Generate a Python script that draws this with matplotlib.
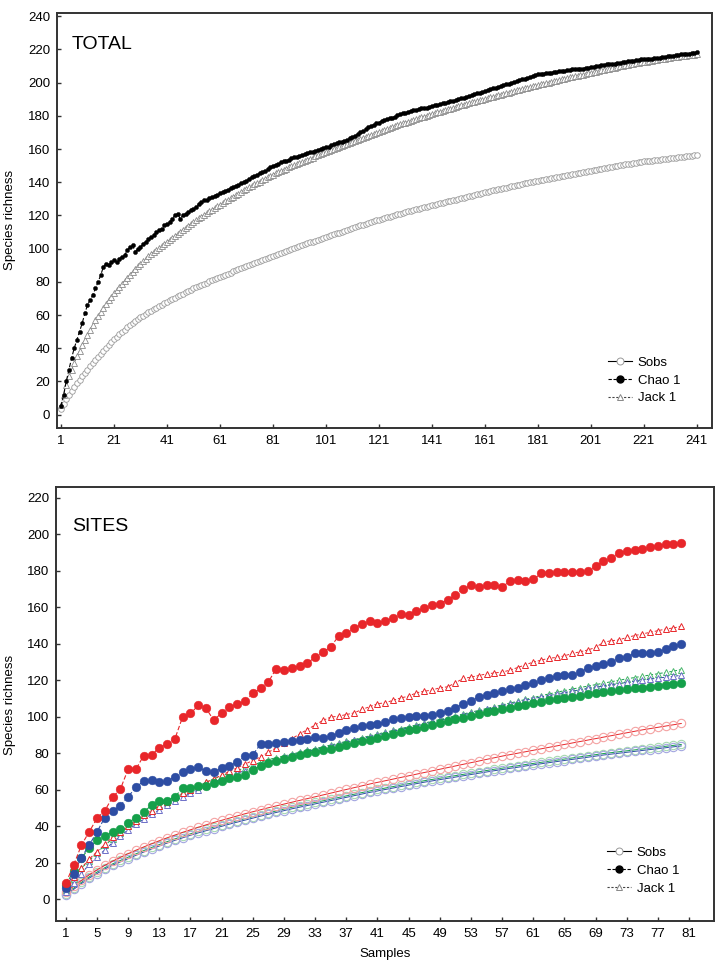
import matplotlib
matplotlib.use('Agg')
import matplotlib.pyplot as plt
from matplotlib.lines import Line2D

plt.rcParams['font.family'] = ['Liberation Sans', 'DejaVu Sans']

# ---------------- TOTAL panel data ----------------
total_samples = list(range(1, 242))
total_xticks = [1, 21, 41, 61, 81, 101, 121, 141, 161, 181, 201, 221, 241]
total_yticks = list(range(0, 241, 20))

total_sobs = [
    3.5, 6.5, 9.5, 12.0, 14.5, 16.8, 19.0, 21.0, 23.0, 25.0, 27.0,
    29.0, 30.9, 32.8, 34.7, 36.6, 38.4, 40.2, 42.0, 43.8, 45.5,
    47.0, 48.4, 49.8, 51.2, 52.6, 53.9, 55.1, 56.3, 57.4, 58.5,
    59.6, 60.6, 61.6, 62.6, 63.6, 64.5, 65.4, 66.3, 67.2, 68.0,
    68.9, 69.7, 70.5, 71.3, 72.1, 72.9, 73.7, 74.5, 75.3, 76.0,
    76.7, 77.4, 78.1, 78.8, 79.5, 80.2, 80.9, 81.6, 82.3, 83.0,
    83.7, 84.3, 85.0, 85.6, 86.3, 86.9, 87.6, 88.2, 88.9, 89.5,
    90.1, 90.7, 91.3, 91.9, 92.5, 93.1, 93.7, 94.3, 94.9, 95.5,
    96.1, 96.7, 97.3, 97.9, 98.5, 99.1, 99.7, 100.3, 100.9, 101.5,
    102.0, 102.6, 103.1, 103.7, 104.2, 104.8, 105.3, 105.9, 106.4, 107.0,
    107.5, 108.1, 108.6, 109.2, 109.7, 110.3, 110.8, 111.4, 111.9, 112.5,
    113.0, 113.5, 114.0, 114.5, 115.0, 115.5, 116.0, 116.5, 117.0, 117.5,
    118.0, 118.4, 118.9, 119.3, 119.8, 120.2, 120.7, 121.1, 121.6, 122.0,
    122.4, 122.8, 123.2, 123.6, 124.0, 124.4, 124.8, 125.2, 125.6, 126.0,
    126.4, 126.8, 127.2, 127.6, 128.0, 128.4, 128.8, 129.2, 129.6, 130.0,
    130.4, 130.8, 131.2, 131.6, 132.0, 132.4, 132.8, 133.2, 133.6, 134.0,
    134.4, 134.7, 135.1, 135.4, 135.8, 136.1, 136.5, 136.8, 137.2, 137.5,
    137.9, 138.2, 138.6, 138.9, 139.3, 139.6, 140.0, 140.3, 140.7, 141.0,
    141.3, 141.6, 141.9, 142.2, 142.5, 142.8, 143.1, 143.4, 143.7, 144.0,
    144.3, 144.6, 144.9, 145.2, 145.5, 145.8, 146.1, 146.4, 146.7, 147.0,
    147.3, 147.6, 147.9, 148.2, 148.5, 148.8, 149.1, 149.4, 149.7, 150.0,
    150.2, 150.5, 150.7, 151.0, 151.2, 151.5, 151.7, 152.0, 152.2, 152.5,
    152.7, 152.9, 153.1, 153.3, 153.5, 153.7, 153.9, 154.1, 154.3, 154.5,
    154.7, 154.9, 155.1, 155.3, 155.5, 155.7, 155.9, 156.1, 156.3, 156.5,
]

total_chao1 = [
    5, 12, 20, 27, 34, 40, 45, 50, 55, 61, 66, 69, 72, 76, 80, 84, 89, 91,
    90, 92, 93, 92, 94, 95, 96, 99, 101, 102, 98, 100, 101, 103, 104, 106,
    107, 108, 110, 111, 112, 114, 115, 116, 118, 120, 121, 118, 120, 121,
    122, 123, 124, 125, 127, 128,
    129, 129.5, 130.5, 131, 132, 132.5, 133.5,
    134, 135, 135.5, 136.5, 137, 138, 138.5, 139.5, 140, 141,
    142, 143, 143.5, 144.5, 145.5, 146, 147, 148, 149, 150,
    150.5, 151, 152, 152.5, 153, 153.5, 154.5, 155, 155.5, 156,
    156.5, 157, 157.5, 158, 158.5, 159, 159.5, 160, 160.5, 161,
    161.5, 162.5, 163, 163.5, 164, 164.5, 165, 165.5, 166.5, 167,
    168, 169, 170, 171, 172, 173, 174, 174.5, 175.5, 176,
    177, 177.5, 178, 178.5, 179, 179.5, 180.5, 181, 181.5, 182,
    182.5, 183, 183.5, 183.5, 184, 184.5, 185, 185, 185.5, 186,
    186.5, 186.5, 187, 187.5, 188, 188.5, 189, 189, 189.5, 190,
    190.5, 191, 191.5, 192, 192.5, 193, 193.5, 194, 194.5, 195,
    195.5, 196, 196.5, 197, 197.5, 198, 198.5, 199, 199.5, 200,
    200.5, 201, 201.5, 202, 202.5, 203, 203.5, 204, 204.5, 205,
    205.5, 205.5, 206, 206, 206, 206.5, 206.5, 207, 207, 207,
    207.5, 207.5, 208, 208, 208, 208.5, 208.5, 209, 209, 209.5,
    209.5, 210, 210, 210.5, 210.5, 211, 211, 211.5, 211.5, 212,
    212, 212.5, 212.5, 213, 213, 213, 213.5, 213.5, 214, 214,
    214, 214.5, 214.5, 215, 215, 215, 215.5, 215.5, 216, 216,
    216, 216.5, 216.5, 217, 217, 217.5, 217.5, 218, 218, 218.5,
]

total_jack1 = [
    6.0, 12.0, 18.0, 23.0, 27.0, 31.0, 35.0, 38.5, 42.0, 45.0, 48.0,
    51.0, 53.9, 56.7, 59.4, 62.0, 64.5, 66.8, 69.0, 71.0, 73.0,
    75.0, 76.9, 78.8, 80.7, 82.5, 84.3, 86.0, 87.7, 89.4, 91.0,
    92.5, 93.9, 95.3, 96.7, 98.0, 99.3, 100.5, 101.7, 102.9, 104.0,
    105.3, 106.6, 107.9, 109.1, 110.3, 111.5, 112.7, 113.8, 114.9, 116.0,
    117.1, 118.2, 119.3, 120.3, 121.4, 122.4, 123.5, 124.5, 125.5, 126.5,
    127.5, 128.5, 129.5, 130.4, 131.3, 132.3, 133.2, 134.2, 135.1, 136.0,
    136.9, 137.8, 138.7, 139.5, 140.4, 141.2, 142.1, 142.9, 143.8, 144.6,
    145.4, 146.1, 146.8, 147.5, 148.2, 148.9, 149.6, 150.3, 151.0, 151.6,
    152.3, 153.0, 153.6, 154.3, 154.9, 155.6, 156.2, 156.9, 157.5, 158.2,
    158.8, 159.4, 160.1, 160.7, 161.3, 162.0, 162.6, 163.2, 163.8, 164.5,
    165.1, 165.7, 166.3, 166.9, 167.5, 168.1, 168.7, 169.3, 169.9, 170.5,
    171.1, 171.6, 172.2, 172.7, 173.3, 173.8, 174.4, 174.9, 175.5, 176.0,
    176.5, 177.0, 177.6, 178.1, 178.6, 179.1, 179.6, 180.1, 180.6, 181.1,
    181.6, 182.1, 182.6, 183.0, 183.5, 184.0, 184.4, 184.9, 185.4, 185.8,
    186.3, 186.7, 187.2, 187.6, 188.1, 188.5, 188.9, 189.4, 189.8, 190.2,
    190.6, 191.1, 191.5, 191.9, 192.3, 192.8, 193.2, 193.6, 194.0, 194.5,
    194.9, 195.3, 195.7, 196.1, 196.5, 196.9, 197.3, 197.7, 198.1, 198.5,
    198.9, 199.3, 199.7, 200.1, 200.5, 200.9, 201.3, 201.7, 202.1, 202.5,
    202.8, 203.2, 203.5, 203.9, 204.2, 204.6, 204.9, 205.3, 205.6, 206.0,
    206.3, 206.7, 207.0, 207.4, 207.7, 208.1, 208.4, 208.8, 209.1, 209.5,
    209.8, 210.1, 210.4, 210.7, 211.0, 211.3, 211.6, 211.9, 212.2, 212.5,
    212.7, 213.0, 213.2, 213.5, 213.7, 214.0, 214.2, 214.5, 214.7, 215.0,
    215.2, 215.4, 215.6, 215.8, 216.0, 216.2, 216.4, 216.6, 216.8, 217.0,
]

# ---------------- SITES panel data ----------------
site_samples = list(range(1, 81))
site_xticks = list(range(1, 82, 4))
site_yticks = list(range(0, 221, 20))

red_sobs = [
    4.0, 7.0, 10.2, 13.3, 16.0, 18.5, 20.8, 22.9, 24.9, 26.8,
    28.6, 30.3, 32.0, 33.6, 35.1, 36.6, 38.0, 39.4, 40.7, 42.0,
    43.2, 44.4, 45.6, 46.8, 47.9, 49.0, 50.1, 51.1, 52.1, 53.1,
    54.1, 55.1, 56.1, 57.1, 58.1, 59.1, 60.1, 61.1, 62.1, 63.1,
    64.0, 64.9, 65.8, 66.7, 67.6, 68.5, 69.4, 70.3, 71.2, 72.1,
    73.0, 73.9, 74.8, 75.7, 76.6, 77.5, 78.4, 79.2, 80.0, 80.8,
    81.6, 82.4, 83.2, 84.0, 84.8, 85.6, 86.4, 87.2, 88.0, 88.8,
    89.6, 90.4, 91.2, 92.0, 92.8, 93.5, 94.2, 94.9, 95.6, 96.3,
]
red_chao1 = [
    8.8, 18.6, 29.6, 36.9, 44.3, 48.5, 55.9, 60.3, 71.3, 71.3,
    78.7, 79.2, 82.9, 85.3, 87.9, 100.0, 101.8, 106.2, 104.6, 98.0,
    102.2, 105.5, 106.8, 108.6, 112.8,
    115.6, 119.1, 126.4, 125.9, 126.6, 127.9, 129.2, 132.9, 135.3, 138.4,
    144.1, 145.9, 148.5, 150.9, 152.7, 151.2, 152.7, 154.0, 156.4, 155.7,
    157.9, 159.5, 161.4, 161.9, 164.3, 166.5, 170.2, 172.0, 171.1,
    172.0, 172.3, 171.0, 174.5, 174.8, 174.6, 175.3, 178.6, 179.0, 179.2,
    179.4, 179.5, 179.6, 180.0, 182.5, 185.5, 187.0, 190.0, 191.0, 191.3,
    192.0, 193.0, 193.8, 194.5, 195.0, 195.5,
]
red_jack1 = [
    6.0, 12.0, 17.0, 22.0, 26.0, 30.0, 34.0, 37.0, 40.0, 43.0,
    46.0, 48.5, 51.0, 53.5, 56.0, 58.0, 60.0, 62.0, 64.0, 66.0,
    68.0, 70.0, 72.0, 74.0, 76.0, 78.0, 80.5, 83.0, 85.5, 88.0,
    90.5, 93.0, 95.5, 98.0, 99.8, 100.3, 101.2, 102.1, 104.0, 105.5,
    107.1, 107.7, 109.0, 110.3, 111.3, 113.1, 114.0, 114.6, 115.9, 116.4,
    118.6, 121.0, 121.7, 122.6, 123.5, 124.0, 124.5, 125.5, 127.0, 128.5,
    130.0, 131.0, 132.1, 132.5, 133.4, 134.7, 135.6, 136.6, 138.0, 140.8,
    141.7, 142.1, 143.5, 144.5, 145.4, 146.3, 147.2, 148.1, 148.7, 149.6,
]

blue_sobs = [
    2.5, 5.3, 8.5, 11.5, 14.0, 16.5, 18.6, 20.4, 22.2, 24.0,
    25.8, 27.5, 29.1, 30.7, 32.2, 33.6, 35.0, 36.3, 37.5, 38.7,
    39.9, 41.1, 42.2, 43.3, 44.4, 45.5, 46.5, 47.5, 48.5, 49.5,
    50.4, 51.3, 52.2, 53.1, 54.0, 54.9, 55.8, 56.7, 57.6, 58.5,
    59.3, 60.1, 60.9, 61.7, 62.5, 63.3, 64.1, 64.8, 65.5, 66.2,
    66.9, 67.6, 68.3, 69.0, 69.7, 70.4, 71.0, 71.7, 72.3, 73.0,
    73.6, 74.2, 74.8, 75.4, 76.0, 76.6, 77.2, 77.8, 78.4, 79.0,
    79.5, 80.0, 80.5, 81.0, 81.5, 82.0, 82.5, 83.0, 83.5, 84.0,
]
blue_chao1 = [
    6.1, 14.0, 22.8, 29.6, 36.9, 44.7, 48.3, 51.3, 56.2, 61.2,
    64.9, 65.4, 64.1, 64.9, 66.9, 69.5, 71.3, 72.4, 70.0, 69.7,
    71.9, 73.2, 75.2, 78.3, 79.2,
    85.0, 85.2, 85.5, 86.0, 86.5, 87.0, 88.0, 89.0, 88.5, 89.5,
    91.0, 93.0, 94.0, 95.0, 95.5,
    96.0, 97.0, 98.5, 99.5, 100.0, 100.3, 100.5, 101.0, 102.0, 103.0,
    105.0, 107.0, 108.6, 111.0, 112.0, 113.0, 114.0, 115.0, 116.0, 117.5,
    118.5, 120.0, 121.1, 122.4, 122.8, 123.0, 124.8, 126.5, 128.0, 128.9,
    130.2, 132.2, 132.9, 134.7, 134.7, 134.7, 135.6, 137.1, 138.9, 139.8,
]
blue_jack1 = [
    4.0, 9.0, 14.0, 19.0, 23.0, 27.0, 31.0, 34.5, 38.0, 41.0,
    44.0, 46.5, 49.0, 51.5, 54.0, 56.0, 58.0, 60.0, 62.0, 64.0,
    66.0, 67.5, 69.0, 70.5, 72.0, 73.5, 75.0, 76.5, 78.0, 79.0,
    80.0, 81.0, 82.0, 83.0, 84.0, 85.0, 86.0, 87.0, 88.0, 89.0,
    90.0, 91.0, 92.0, 93.0, 94.0, 95.0, 96.0, 97.0, 98.0, 99.0,
    100.0, 101.0, 102.0, 103.0, 104.0, 105.0, 106.0, 107.0, 108.0, 109.0,
    110.0, 110.8, 111.6, 112.4, 113.2, 114.0, 114.8, 115.5, 116.2, 116.9,
    117.6, 118.2, 118.8, 119.4, 120.0, 120.6, 121.2, 121.7, 122.2, 122.7,
]

green_sobs = [
    3.0, 6.0, 9.2, 12.2, 14.8, 17.2, 19.3, 21.2, 23.0, 24.8,
    26.6, 28.3, 29.9, 31.5, 33.0, 34.4, 35.8, 37.1, 38.3, 39.5,
    40.7, 41.9, 43.0, 44.1, 45.2, 46.3, 47.3, 48.3, 49.3, 50.3,
    51.2, 52.1, 53.0, 53.9, 54.8, 55.7, 56.6, 57.5, 58.4, 59.3,
    60.1, 60.9, 61.7, 62.5, 63.3, 64.1, 64.9, 65.6, 66.3, 67.0,
    67.7, 68.4, 69.1, 69.8, 70.5, 71.2, 71.8, 72.5, 73.1, 73.8,
    74.4, 75.0, 75.6, 76.2, 76.8, 77.4, 78.0, 78.6, 79.2, 79.8,
    80.3, 80.8, 81.3, 81.8, 82.3, 82.8, 83.3, 83.8, 84.3, 84.8,
]
green_chao1 = [
    7.9, 15.3, 22.6, 27.8, 32.3, 34.5, 36.9, 38.2, 41.9, 44.7,
    47.6, 51.6, 54.0, 54.0, 56.2, 60.8, 60.8, 61.8, 62.1, 63.6,
    64.5, 66.3, 66.9, 67.8, 71.0, 73.0, 74.5, 76.0, 77.0, 78.0,
    79.0, 80.0, 80.5, 81.5, 82.5, 83.5, 84.5, 85.5, 86.5, 87.5,
    88.5, 89.5, 90.5, 91.5, 92.5, 93.5, 94.5, 95.5, 96.5, 97.5,
    98.5, 99.5, 100.5, 101.5, 102.5, 103.3, 104.1, 104.9, 105.7, 106.5,
    107.3, 108.1, 109.0, 109.7, 110.4, 111.0, 111.6, 112.2, 112.8, 113.4,
    114.0, 114.5, 115.0, 115.5, 116.0, 116.5, 117.0, 117.5, 118.0, 118.5,
]
green_jack1 = [
    5.0, 11.0, 17.0, 21.0, 25.5, 29.5, 33.0, 36.5, 40.0, 43.0,
    46.0, 48.5, 51.0, 53.5, 56.0, 58.0, 60.0, 62.0, 64.0, 66.0,
    67.5, 69.0, 70.5, 72.0, 73.5, 75.0, 76.5, 77.5, 78.5, 79.5,
    80.5, 81.5, 82.5, 83.5, 84.5, 85.5, 86.5, 87.5, 88.5, 89.5,
    90.5, 91.5, 92.5, 93.5, 94.5, 95.5, 96.5, 97.5, 98.5, 99.5,
    100.5, 101.5, 102.5, 103.5, 104.5, 105.5, 106.5, 107.5, 108.5, 109.5,
    110.5, 111.5, 112.5, 113.4, 114.3, 115.2, 116.0, 116.8, 117.6, 118.4,
    119.2, 120.0, 120.8, 121.5, 122.2, 122.9, 123.6, 124.3, 125.0, 125.9,
]

legend_labels = ['Sobs', 'Chao 1', 'Jack 1']

# ---------------- figure ----------------
fig = plt.figure(figsize=(7.17, 9.68), dpi=100)
ax1 = fig.add_axes([0.0795, 0.558, 0.9135, 0.4286])
ax2 = fig.add_axes([0.0788, 0.0486, 0.917, 0.4483])

SPINE = '#333333'
for ax in (ax1, ax2):
    for s in ax.spines.values():
        s.set_color(SPINE)
        s.set_linewidth(1.4)
    ax.tick_params(direction='in', length=3, width=1, color=SPINE,
                   labelsize=9.5, pad=5)

# TOTAL panel
ax1.plot(total_samples, total_sobs, '-', color='#777777', lw=0.6,
         marker='o', ms=4, mfc='white', mec='#9a9a9a', mew=0.6, zorder=2)
ax1.plot(total_samples, total_jack1, linestyle=(0, (3, 2)), color='#555555',
         lw=0.6, marker='^', ms=3.8, mfc='white', mec='#8a8a8a', mew=0.6,
         zorder=3)
ax1.plot(total_samples, total_chao1, linestyle=(0, (4, 2)), color='black',
         lw=0.8, marker='o', ms=3, mfc='black', mec='black', mew=0.3,
         zorder=4)
ax1.set_xlim(-0.5, 246.7)
ax1.set_ylim(-8, 242)
ax1.set_xticks(total_xticks)
ax1.set_yticks(total_yticks)
ax1.text(0.023, 0.923, 'TOTAL', transform=ax1.transAxes, fontsize=14,
         ha='left', va='center')

# SITES panel
site_colors = {
    'red': ('#e8262a', '#f4a3a3', '#e8262a'),
    'blue': ('#2d4da3', '#a3a6e0', '#6d6fc8'),
    'green': ('#15a04a', '#a6d9b0', '#4cb86e'),
}
site_data = {
    'red': (red_sobs, red_chao1, red_jack1),
    'blue': (blue_sobs, blue_chao1, blue_jack1),
    'green': (green_sobs, green_chao1, green_jack1),
}
for key in ('green', 'blue', 'red'):
    main, light, tri = site_colors[key]
    sobs, chao, jack = site_data[key]
    ax2.plot(site_samples, sobs, '-', color=main, lw=0.7, marker='o', ms=6,
             mfc='none', mec=light, mew=0.8, zorder=2)
for key in ('green', 'blue', 'red'):
    main, light, tri = site_colors[key]
    sobs, chao, jack = site_data[key]
    ax2.plot(site_samples, jack, linestyle=(0, (3, 2)), color=main, lw=0.7,
             marker='^', ms=5, mfc='white', mec=tri, mew=0.7, zorder=3)
for key in ('green', 'blue', 'red'):
    main, light, tri = site_colors[key]
    sobs, chao, jack = site_data[key]
    ax2.plot(site_samples, chao, linestyle=(0, (4, 2)), color=main, lw=0.8,
             marker='o', ms=6.3, mfc=main, mec=main, mew=0.3, zorder=4)
ax2.set_xlim(-0.2, 84.2)
ax2.set_ylim(-12, 226)
ax2.set_xticks(site_xticks)
ax2.set_yticks(site_yticks)
ax2.text(0.0236, 0.908, 'SITES', transform=ax2.transAxes, fontsize=14,
         ha='left', va='center')

fig.text(0.014, 0.773, 'Species richness', rotation=90, fontsize=9.5,
         ha='center', va='center')
fig.text(0.014, 0.272, 'Species richness', rotation=90, fontsize=9.5,
         ha='center', va='center')
fig.text(0.537, 0.0145, 'Samples', fontsize=9.5, ha='center', va='center')

# legends
handles = [
    Line2D([], [], color='black', lw=0.8, marker='o', ms=5, mfc='white',
           mec='#999999', mew=0.7),
    Line2D([], [], color='black', lw=0.8, linestyle=(0, (3, 1.5)), marker='o',
           ms=5, mfc='black', mec='black'),
    Line2D([], [], color='#444444', lw=0.8, linestyle=(0, (2, 1.5)),
           marker='^', ms=5, mfc='white', mec='#888888', mew=0.7),
]
for ax, anchor in ((ax1, (0.842, 0.172)), (ax2, (0.838, 0.171))):
    ax.legend(handles, legend_labels, loc='upper left', bbox_to_anchor=anchor,
              frameon=False, fontsize=9.5, handlelength=1.8, handletextpad=0.4,
              labelspacing=0.42, borderpad=0, borderaxespad=0)

fig.savefig('out.png', dpi=100)
